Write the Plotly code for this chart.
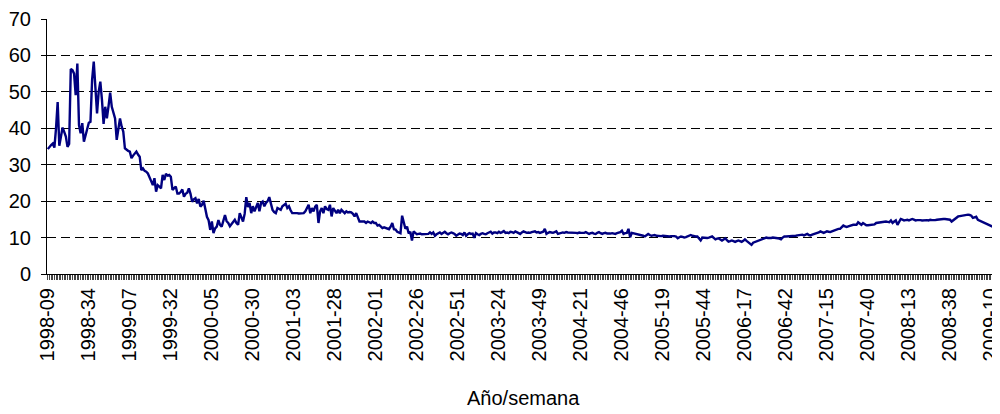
import plotly.graph_objects as go

# ---- categories: year-week labels (weekly series starting 1998-09) ----
start_year = 1998
start_week = 9
weeks_in_year = {2003: 53, 2008: 53}  # other years: 52
label_every = 25

# ---- series values ----
vals_a = [34.3, 35.0, 35.4, 35.8, 34.7, 40.0, 47.2, 35.2, 38.0, 40.2,
          39.0, 37.7, 34.9, 35.7, 56.3, 56.0, 55.0, 49.1, 57.8, 40.9,
          38.6, 41.4, 36.3, 38.0, 39.1, 41.5, 41.8, 53.3, 58.3, 50.0,
          44.1, 50.0, 52.8, 47.8, 41.2, 45.9, 42.7, 46.0, 49.8, 45.9,
          44.5, 42.7, 36.8, 40.0, 42.7, 40.5, 39.1, 34.5, 34.0, 33.8,
          33.6, 31.8, 32.5, 33.1, 33.6, 32.8, 32.2, 28.5, 29.0, 28.3,
          28.1, 27.6, 26.3, 25.5, 24.4, 26.3, 22.6, 24.4, 24.0, 23.5,
          27.2, 25.8, 27.5, 27.0, 27.2, 26.7, 23.1, 23.5, 24.0, 22.1,
          22.1, 22.5, 23.2, 21.2, 22.0, 22.3, 23.5, 22.0, 19.8, 20.5,
          20.8, 19.4, 20.6, 18.5, 19.0, 20.1, 18.0, 15.7, 14.8, 12.1]
vals_b = [14.4, 11.2, 12.5, 13.0, 14.8, 13.5, 13.0, 14.4, 16.2, 14.5,
          14.0, 13.1, 13.8, 14.4, 14.9, 14.0, 13.5, 16.7, 15.5, 14.4,
          16.5, 21.1, 18.4, 19.5, 16.7, 18.6, 17.2, 18.5, 19.5, 17.2,
          19.5, 19.9, 18.6, 19.5, 20.0, 21.1, 19.0, 17.6, 17.0, 16.7,
          18.1, 17.8, 17.6, 18.6, 19.0, 19.3, 18.1, 18.6, 17.5, 16.7,
          16.7, 16.8, 16.7, 16.6, 16.7, 16.8, 16.7, 17.2, 18.0, 19.0,
          16.7, 18.1, 17.2, 18.5, 19.0, 14.0, 17.2, 18.1, 16.7, 18.6,
          17.8, 17.6, 19.0, 15.8, 18.1, 17.2, 16.7, 17.6, 16.7, 17.6,
          17.0, 16.7, 17.2, 16.9, 17.0, 16.9, 16.5, 15.8, 16.7, 15.5,
          14.4, 14.4, 14.4, 14.4, 14.0, 14.4, 14.2, 14.0, 14.4, 14.0]
vals_c = [14.0, 13.3, 13.5, 13.0, 12.6, 12.8, 12.6, 12.5, 12.3, 13.0,
          14.0, 12.3, 12.2, 11.6, 11.4, 11.2, 16.0, 14.0, 12.4, 13.0,
          11.1, 11.6, 9.2, 11.7, 11.2, 10.9, 11.0, 11.1, 10.9, 10.9,
          10.9, 11.0, 11.0, 11.4, 11.0, 11.4, 10.5, 10.9, 11.2, 11.4,
          11.0, 11.2, 11.6, 11.2, 10.9, 11.2, 11.4, 11.2, 11.0, 10.5,
          10.8, 11.1, 11.0, 10.7, 11.4, 10.5, 10.9, 11.2, 11.0, 11.1,
          9.9, 11.2, 10.9, 10.7, 11.0, 11.2, 11.0, 10.9, 11.2, 11.3,
          11.6, 11.1, 11.4, 11.4, 11.2, 11.6, 11.3, 11.5, 11.8, 11.3,
          11.4, 11.2, 11.6, 11.5, 11.3, 11.7, 11.4, 11.3, 11.0, 11.4,
          11.7, 11.5, 11.3, 11.4, 11.3, 11.5, 11.6, 11.7, 11.4, 11.5]
vals_d = [11.3, 11.4, 11.6, 12.4, 11.0, 11.3, 11.5, 11.4, 11.3, 11.5,
          11.7, 11.0, 11.2, 11.3, 11.4, 11.3, 11.5, 11.4, 11.4, 11.5,
          11.4, 11.3, 11.3, 11.2, 11.4, 11.3, 11.2, 11.3, 11.5, 11.2,
          11.0, 11.2, 11.3, 11.1, 11.0, 11.3, 11.5, 11.2, 11.0, 11.2,
          11.3, 11.1, 11.0, 11.1, 11.2, 11.1, 11.0, 11.2, 11.3, 11.5,
          11.9, 11.0, 11.2, 11.3, 12.4, 10.1, 11.3, 11.2, 11.2, 11.1,
          11.0, 10.9, 10.7, 10.5, 10.3, 10.6, 11.0, 10.7, 10.5, 10.6,
          10.7, 10.5, 10.4, 10.3, 10.4, 10.5, 10.4, 10.3, 10.3, 10.3,
          10.4, 10.5, 10.4, 10.3, 9.8, 10.1, 10.3, 10.2, 10.0, 10.1,
          10.3, 10.5, 10.7, 10.5, 10.3, 10.3, 10.3, 9.6, 9.2, 10.0]
vals_e = [9.9, 9.8, 9.9, 10.0, 10.1, 10.3, 9.9, 9.5, 9.7, 9.8,
          9.5, 9.2, 9.5, 9.8, 9.3, 8.9, 9.0, 9.2, 9.0, 8.8,
          9.0, 9.2, 9.0, 8.8, 9.1, 9.5, 9.1, 8.8, 8.4, 8.0,
          8.6, 8.8, 9.0, 9.2, 9.4, 9.5, 9.7, 9.8, 10.0, 9.9,
          9.8, 9.9, 10.0, 10.0, 10.0, 9.8, 9.7, 9.5, 10.0, 10.3,
          10.3, 10.3, 10.4, 10.5, 10.4, 10.3, 10.5, 10.6, 10.7, 10.7,
          10.8, 10.6, 10.8, 11.0, 10.7, 10.6, 10.8, 10.9, 11.0, 11.2,
          11.4, 11.7, 11.5, 11.3, 11.5, 11.7, 11.6, 11.5, 11.7, 11.9,
          12.1, 12.4, 12.4, 12.4, 12.8, 13.3, 13.1, 12.9, 13.1, 13.3,
          13.4, 13.5, 13.5, 13.5, 14.2, 13.8, 13.5, 14.0, 13.7, 13.4]
vals_f = [13.4, 13.4, 13.4, 13.4, 13.6, 14.0, 14.1, 14.2, 14.2, 14.2,
          14.3, 14.4, 14.3, 14.2, 14.7, 14.0, 14.4, 14.7, 13.5, 14.4,
          15.1, 14.9, 14.7, 14.8, 14.9, 14.7, 14.9, 15.1, 14.9, 14.7,
          14.8, 14.9, 14.8, 14.7, 14.8, 14.9, 14.8, 14.7, 14.9, 14.8,
          14.7, 14.8, 14.9, 15.0, 15.1, 15.1, 15.1, 15.1, 15.1, 15.0,
          14.9, 14.4, 14.8, 15.1, 15.5, 15.8, 15.9, 16.0, 16.2, 16.3,
          16.3, 16.3, 16.2, 16.0, 15.4, 15.6, 15.7, 14.9, 14.7, 14.4,
          14.3, 14.2, 14.0, 13.8, 13.5, 13.3, 13.0, 12.5, 12.2]

values = vals_a + vals_b + vals_c + vals_d + vals_e + vals_f

# build week labels
weeks = []
y, w = start_year, start_week
for _ in range(len(values)):
    weeks.append(f"{y}-{w:02d}")
    w += 1
    if w > weeks_in_year.get(y, 52):
        w = 1
        y += 1

ticktext = [lab if i % label_every == 0 else "" for i, lab in enumerate(weeks)]

FONT = "Liberation Sans, Arial, sans-serif"

fig = go.Figure()
fig.add_trace(go.Scatter(
    x=weeks, y=values, mode="lines",
    line=dict(color="#000080", width=2.4),
    showlegend=False,
))

# the page body adds an 8px offset, so the figure is 8px smaller and shifted
fig.update_layout(
    width=992, height=406,
    margin=dict(l=39, r=0, t=11, b=140),
    paper_bgcolor="white", plot_bgcolor="white",
    font=dict(family=FONT, color="black"),
    xaxis=dict(
        type="category", automargin=False,
        range=[-0.5, len(weeks) + 1.5],
        tickmode="array", tickvals=weeks, ticktext=ticktext,
        tickangle=-90,
        ticks="outside", ticklen=5, tickwidth=1, tickcolor="#444",
        showline=True, linecolor="black", linewidth=1,
        showgrid=False, zeroline=False,
        tickfont=dict(family=FONT, size=20, color="black"),
    ),
    yaxis=dict(
        automargin=False,
        range=[0, 70], dtick=10, tick0=0,
        showgrid=True, gridcolor="black", gridwidth=1, griddash="9px,5px",
        showline=True, linecolor="black", linewidth=1,
        ticks="outside", ticklen=5, tickcolor="black",
        ticklabelstandoff=6,
        zeroline=False,
        tickfont=dict(family=FONT, size=20, color="black"),
    ),
    annotations=[dict(
        text="Año/semana", xref="paper", yref="paper",
        x=0.5, y=-0.486, xanchor="center", yanchor="middle",
        showarrow=False, font=dict(family=FONT, size=20, color="black"),
    )],
)

fig.write_html("out.html")
